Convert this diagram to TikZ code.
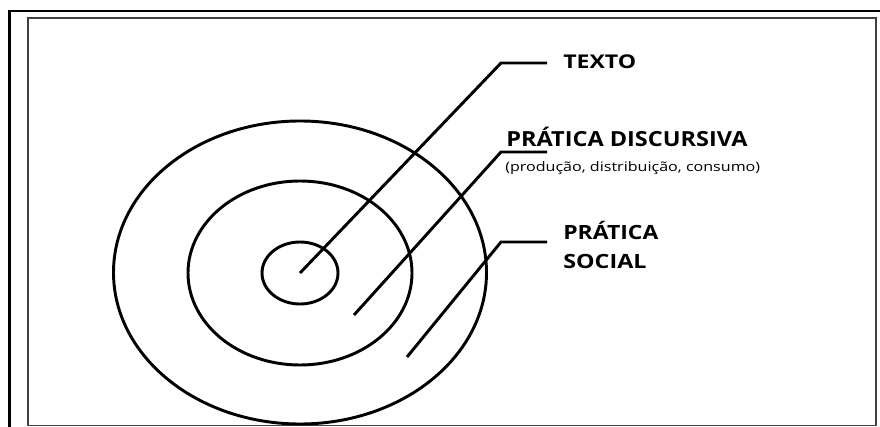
\documentclass[tikz,border=0pt]{standalone}
\usepackage{fontspec}
\setmainfont{Open Sans}
\begin{document}
\begin{tikzpicture}[x=0.75pt,y=-0.75pt,
  ring/.style={line width=2.2pt},
  leader/.style={line width=2.2pt,line join=miter},
  lbl/.style={anchor=base west,inner sep=0pt},
  fa/.style={font=\bfseries\fontsize{14.2pt}{20pt}\selectfont},
  fb/.style={font=\bfseries\fontsize{15.6pt}{20pt}\selectfont},
  fc/.style={font=\bfseries\fontsize{14.7pt}{21.75pt}\selectfont},
  fd/.style={font=\fontsize{9.8pt}{12pt}\selectfont}]
\useasboundingbox (0,0) rectangle (880,427);
% frames
\draw[line width=2.2pt] (9.5,440) -- (9.5,11) -- (890,11);
\draw[line width=1.3pt,draw=black!75] (28,18) rectangle (876,425.5);
% rings
\draw[ring] (300,272.5) ellipse [x radius=186.5*0.75pt, y radius=151.5*0.75pt];
\draw[ring] (300,273) ellipse [x radius=112*0.75pt, y radius=92*0.75pt];
\draw[ring] (300,273) ellipse [x radius=38*0.75pt, y radius=31*0.75pt];
% coordinates
\coordinate (s1) at (300,273);
\coordinate (b1) at (501,63);
\coordinate (e1) at (547,63);
\coordinate (s2) at (354,315);
\coordinate (b2) at (501,152);
\coordinate (e2) at (547,152);
\coordinate (s3) at (407,357);
\coordinate (b3) at (501,242);
\coordinate (e3) at (547,242);
% labels
\node[lbl,fa] (texto) at (563,68.5) {\scalebox{1.22}[1]{TEXTO}};
\node[lbl,fb] (disc) at (506,147) {\scalebox{1.13}[1]{PRÁTICA DISCURSIVA}};
\node[lbl,fd] (sub) at (505,172) {\scalebox{1.23}[1]{(produção, distribuição, consumo)}};
\node[lbl,fc] (social1) at (563,239.5) {\scalebox{1.17}[1]{PRÁTICA}};
\node[lbl,fc] (social2) at (563,268.5) {\scalebox{1.19}[1]{SOCIAL}};
% leaders
\draw[leader] (s1) -- (b1) -- (e1);
\draw[leader] (s2) -- (b2) -- (e2);
\draw[leader] (s3) -- (b3) -- (e3);
\end{tikzpicture}
\end{document}
